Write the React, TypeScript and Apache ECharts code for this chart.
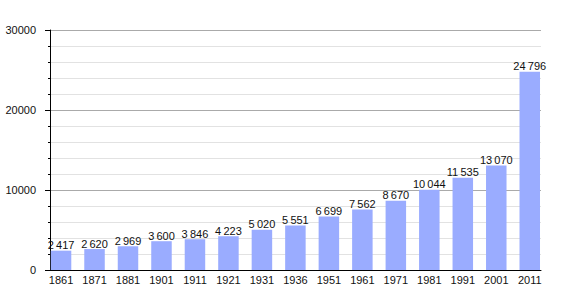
import React, { useEffect, useRef } from "react";
import * as echarts from "echarts";

const years = ["1861", "1871", "1881", "1901", "1911", "1921", "1931", "1936", "1951", "1961", "1971", "1981", "1991", "2001", "2011"];
const population = [2417, 2620, 2969, 3600, 3846, 4223, 5020, 5551, 6699, 7562, 8670, 10044, 11535, 13070, 24796];

const FONT = "Liberation Sans, Arial, sans-serif";

function fmt(v: number): string {
  return String(v).replace(/\B(?=(\d{3})+(?!\d))/g, "\u202F");
}

export default function App() {
  const ref = useRef<HTMLDivElement>(null);
  useEffect(() => {
    if (!ref.current) return;
    const chart = echarts.init(ref.current, undefined, { renderer: "svg" });
    chart.setOption({
      animation: false,
      backgroundColor: "#ffffff",
      grid: [
        { left: 50, right: 29, top: 30, bottom: 30 },
        { left: 44.3, right: 23.5, top: 30, bottom: 30 },
      ],
      xAxis: [
        {
          type: "category",
          gridIndex: 0,
          data: years,
          axisLine: { show: true, lineStyle: { color: "#000", width: 1 } },
          axisTick: { show: false },
          axisLabel: { show: false },
          splitLine: { show: false },
        },
        {
          type: "category",
          gridIndex: 1,
          data: years,
          axisLine: { show: false },
          axisTick: { show: false },
          axisLabel: { show: true, color: "#111", fontSize: 11, fontFamily: FONT, margin: 4, interval: 0 },
          splitLine: { show: false },
        },
      ],
      yAxis: [
        {
          type: "value",
          gridIndex: 0,
          min: 0,
          max: 30000,
          interval: 10000,
          axisLine: { show: true, lineStyle: { color: "#000", width: 1 } },
          axisTick: { show: true, length: 5, lineStyle: { color: "#000" } },
          minorTick: { show: true, splitNumber: 5, length: 2, lineStyle: { color: "#000" } },
          axisLabel: { color: "#111", fontSize: 11, fontFamily: FONT, margin: 14, formatter: (v: number) => String(v) },
          splitLine: { show: true, lineStyle: { color: "#aaaaaa", width: 1 } },
          minorSplitLine: { show: true, lineStyle: { color: "#e2e2e2", width: 1 } },
        },
        {
          type: "value",
          gridIndex: 1,
          min: 0,
          max: 30000,
          show: false,
        },
      ],
      series: [
        {
          type: "bar",
          xAxisIndex: 1,
          yAxisIndex: 1,
          data: population,
          barWidth: 20.5,
          z: 5,
          itemStyle: { color: "#9aacff" },
          label: {
            show: true,
            position: "top",
            distance: 0,
            color: "#111",
            fontSize: 11,
            fontFamily: FONT,
            formatter: (p: any) => fmt(p.value),
          },
        },
      ],
    });
    return () => chart.dispose();
  }, []);
  return <div ref={ref} style={{ width: 570, height: 300, position: "absolute", left: 0, top: 0 }} />;
}
